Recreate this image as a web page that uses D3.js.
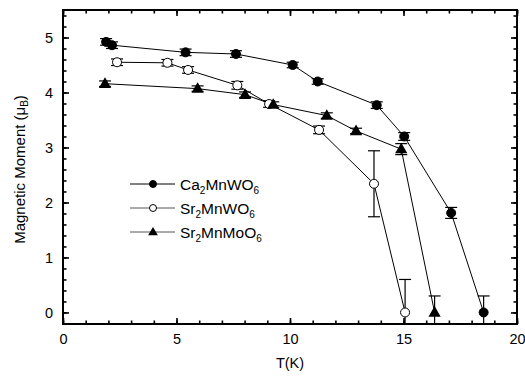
<!DOCTYPE html>
<html>
<head>
<meta charset="utf-8">
<script src="https://cdn.jsdelivr.net/npm/d3@7"></script>
<style>
  body { margin: 0; background: #fff; }
  svg { font-family: Arial, "Liberation Sans", sans-serif; }
</style>
</head>
<body>
<div id="chart"></div>
<script>
const width = 525;
const height = 378;
const margin = { top: 10, right: 8, bottom: 54, left: 63 };

// T (K), moment (muB), error
const caT = [1.9, 2.16, 5.4, 7.62, 10.12, 11.22, 13.82, 15.03, 17.1, 18.53];
const caM = [4.92, 4.86, 4.73, 4.70, 4.50, 4.20, 3.77, 3.20, 1.81, 0];
const caE = [0.06, 0.06, 0.06, 0.06, 0.05, 0.05, 0.06, 0.07, 0.1, 0.3];

const srwT = [2.38, 4.6, 5.51, 7.68, 9.08, 11.28, 13.7, 15.07];
const srwM = [4.55, 4.54, 4.41, 4.13, 3.79, 3.32, 2.34, 0];
const srwE = [0.06, 0.06, 0.06, 0.07, 0.06, 0.07, 0.6, 0.6];

const srmT = [1.85, 5.93, 8.02, 9.26, 11.62, 12.91, 14.9, 16.37];
const srmM = [4.16, 4.07, 3.96, 3.78, 3.58, 3.30, 2.97, 0];
const srmE = [0.05, 0.05, 0.05, 0.05, 0.05, 0.05, 0.1, 0.3];

const xTicks = [0, 5, 10, 15, 20];
const yTicks = [0, 1, 2, 3, 4, 5];

const series = [
  { name: ["Ca", "2", "MnWO", "6"], T: caT, M: caM, E: caE, sym: "filled", lc: "#000" },
  { name: ["Sr", "2", "MnWO", "6"], T: srwT, M: srwM, E: srwE, sym: "open", lc: "#555" },
  { name: ["Sr", "2", "MnMoO", "6"], T: srmT, M: srmM, E: srmE, sym: "tri", lc: "#555" }
];

const svg = d3.select("#chart").append("svg")
  .attr("width", width)
  .attr("height", height);

const x = d3.scaleLinear().domain([0, 20]).range([margin.left, width - margin.right]);
const y = d3.scaleLinear().domain([-0.21, 5.5]).range([height - margin.bottom, margin.top]);

svg.append("clipPath").attr("id", "clip")
  .append("rect")
  .attr("x", margin.left).attr("y", margin.top)
  .attr("width", width - margin.left - margin.right)
  .attr("height", height - margin.top - margin.bottom);

const plot = svg.append("g").attr("clip-path", "url(#clip)");

// connecting lines
const line = d3.line().x(d => x(d[0])).y(d => y(d[1]));
series.forEach(s => {
  const pts = s.T.map((t, i) => [t, s.M[i]]);
  plot.append("path")
    .attr("d", line(pts))
    .attr("fill", "none")
    .attr("stroke", "#000")
    .attr("stroke-width", 1);
});

// error bars
const cap = 6;
series.forEach(s => {
  s.T.forEach((t, i) => {
    const cx = x(t);
    const y1 = y(s.M[i] + s.E[i]);
    const y2 = y(s.M[i] - s.E[i]);
    const g = plot.append("g").attr("stroke", "#000").attr("stroke-width", 1.2);
    g.append("line").attr("x1", cx).attr("x2", cx).attr("y1", y1).attr("y2", y2);
    g.append("line").attr("x1", cx - cap).attr("x2", cx + cap).attr("y1", y1).attr("y2", y1);
    g.append("line").attr("x1", cx - cap).attr("x2", cx + cap).attr("y1", y2).attr("y2", y2);
  });
});

function drawSymbol(g, sym, cx, cy, r) {
  if (sym === "tri") {
    g.append("path")
      .attr("d", d3.symbol(d3.symbolTriangle, r * r * 3.2)())
      .attr("transform", `translate(${cx},${cy + r * 0.15})`)
      .attr("fill", "#000");
  } else {
    g.append("circle")
      .attr("cx", cx).attr("cy", cy).attr("r", r)
      .attr("fill", sym === "filled" ? "#000" : "#fff")
      .attr("stroke", "#000")
      .attr("stroke-width", 1);
  }
}

// markers
series.forEach(s => {
  s.T.forEach((t, i) => drawSymbol(plot, s.sym, x(t), y(s.M[i]), 4.5));
});

// axes with inward ticks
const xAxisB = svg.append("g").attr("transform", `translate(0,${height - margin.bottom})`)
  .call(d3.axisBottom(x).tickValues(xTicks).tickSize(-6).tickPadding(10).tickFormat(d3.format("d")));
const xMinorB = svg.append("g").attr("transform", `translate(0,${height - margin.bottom})`)
  .call(d3.axisBottom(x).tickValues(d3.range(0, 21, 1)).tickSize(-3.5).tickFormat(""));
const xAxisT = svg.append("g").attr("transform", `translate(0,${margin.top})`)
  .call(d3.axisTop(x).tickValues(xTicks).tickSize(-6).tickFormat(""));
const xMinorT = svg.append("g").attr("transform", `translate(0,${margin.top})`)
  .call(d3.axisTop(x).tickValues(d3.range(0, 21, 1)).tickSize(-3.5).tickFormat(""));
const yAxisL = svg.append("g").attr("transform", `translate(${margin.left},0)`)
  .call(d3.axisLeft(y).tickValues(yTicks).tickSize(-6).tickPadding(10).tickFormat(d3.format("d")));
const yMinorL = svg.append("g").attr("transform", `translate(${margin.left},0)`)
  .call(d3.axisLeft(y).tickValues(d3.range(-0.2, 5.45, 0.2)).tickSize(-3.5).tickFormat(""));
const yAxisR = svg.append("g").attr("transform", `translate(${width - margin.right},0)`)
  .call(d3.axisRight(y).tickValues(yTicks).tickSize(-6).tickFormat(""));
const yMinorR = svg.append("g").attr("transform", `translate(${width - margin.right},0)`)
  .call(d3.axisRight(y).tickValues(d3.range(-0.2, 5.45, 0.2)).tickSize(-3.5).tickFormat(""));

[xAxisB, xMinorB, xAxisT, xMinorT, yAxisL, yMinorL, yAxisR, yMinorR].forEach(a => {
  a.select(".domain").remove();
  a.selectAll(".tick line").attr("stroke", "#000").attr("stroke-width", 1.6);
  a.selectAll("text").attr("font-size", 14.5).attr("fill", "#000").attr("font-family", "Arial, 'Liberation Sans', sans-serif");
});

// frame
svg.append("rect")
  .attr("x", margin.left).attr("y", margin.top)
  .attr("width", width - margin.left - margin.right)
  .attr("height", height - margin.top - margin.bottom)
  .attr("fill", "none")
  .attr("stroke", "#000")
  .attr("stroke-width", 2);

// axis titles
svg.append("text")
  .attr("x", x(10)).attr("y", 368)
  .attr("text-anchor", "middle")
  .attr("font-size", 14.5)
  .text("T(K)");

const yl = svg.append("text")
  .attr("transform", `translate(25,${y(2.6)}) rotate(-90)`)
  .attr("text-anchor", "middle")
  .attr("font-size", 15);
yl.append("tspan").text("Magnetic Moment (\u03BC");
yl.append("tspan").attr("font-size", 10).attr("dy", 3).text("B");
yl.append("tspan").attr("dy", -3).text(")");

// legend
const legY = [184, 208, 232];
series.forEach((s, i) => {
  const g = svg.append("g");
  g.append("line")
    .attr("x1", 130).attr("x2", 175)
    .attr("y1", legY[i]).attr("y2", legY[i])
    .attr("stroke", s.lc).attr("stroke-width", 1);
  drawSymbol(g, s.sym, 153, legY[i], s.sym === "tri" ? 3.6 : 3.5);
  const t = g.append("text")
    .attr("x", 180).attr("y", legY[i] + 6)
    .attr("font-size", 15.5);
  t.append("tspan").text(s.name[0]);
  t.append("tspan").attr("font-size", 10).attr("dy", 4).text(s.name[1]);
  t.append("tspan").attr("dy", -4).text(s.name[2]);
  t.append("tspan").attr("font-size", 10).attr("dy", 4).text(s.name[3]);
});
</script>
</body>
</html>
